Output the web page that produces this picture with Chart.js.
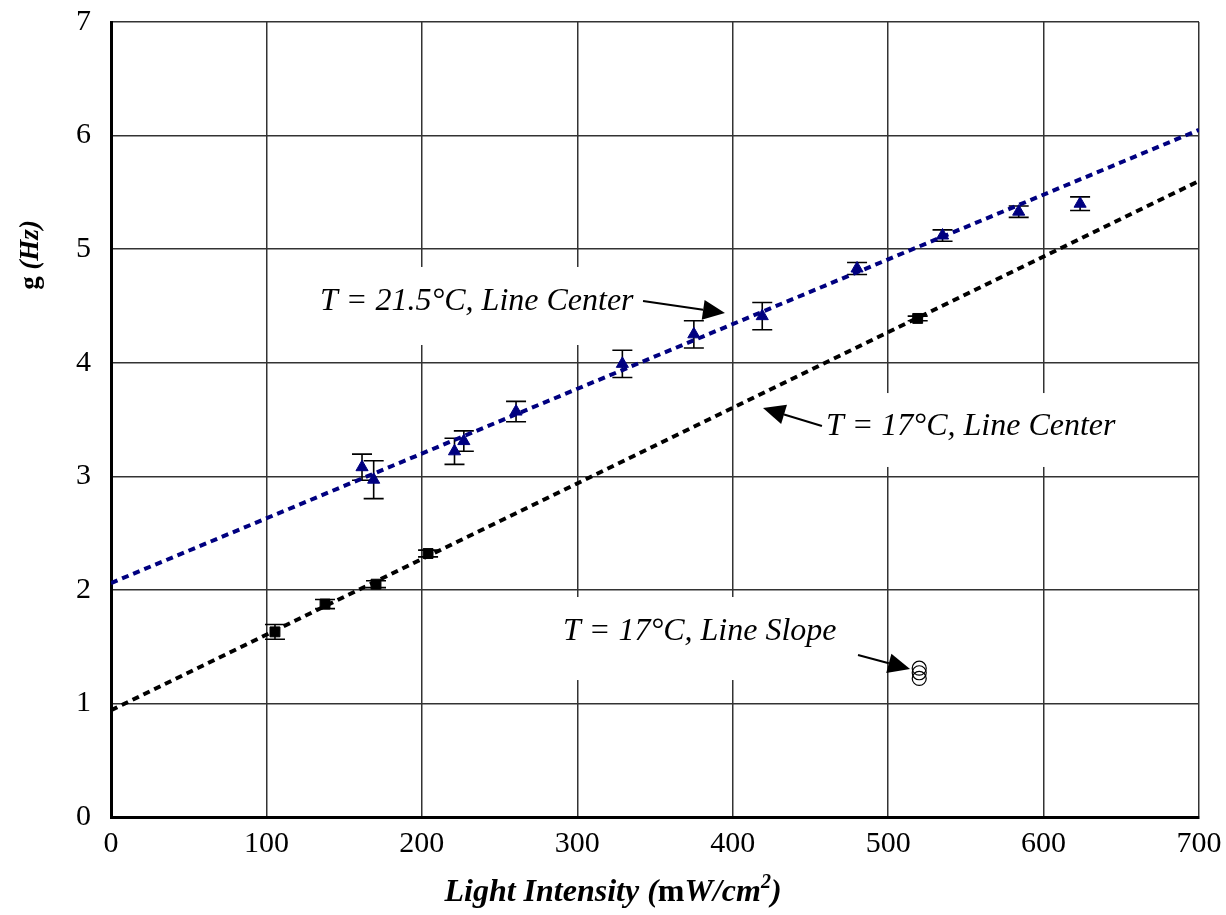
<!DOCTYPE html>
<html><head><meta charset="utf-8">
<script src="https://cdn.jsdelivr.net/npm/chart.js@4/dist/chart.umd.min.js"></script>
<style>html,body{margin:0;padding:0;background:#fff}#wrap{width:1226px;height:915px}</style>
</head><body><div id="wrap"><canvas id="c" width="1226" height="915"></canvas></div>
<script>
// ---- data ----
const xTickValues = [0, 100, 200, 300, 400, 500, 600, 700];
const yTickValues = [0, 1, 2, 3, 4, 5, 6, 7];

const warmX   = [161.5, 169, 221, 227, 260.6, 329, 375, 419, 480, 535, 584, 623.5];
const warmY   = [3.08, 2.97, 3.22, 3.31, 3.57, 3.99, 4.25, 4.41, 4.83, 5.12, 5.33, 5.40];
const warmErr = [0.115, 0.167, 0.115, 0.09, 0.09, 0.12, 0.12, 0.12, 0.053, 0.05, 0.05, 0.06];

const coldX   = [105.5, 137.7, 170.5, 204, 519];
const coldY   = [1.63, 1.875, 2.05, 2.32, 4.39];
const coldErr = [0.065, 0.04, 0.03, 0.03, 0.02];

const slopeX = [520, 520, 520];
const slopeY = [1.31, 1.27, 1.22];

const fitWarmX = [0, 700];
const fitWarmY = [2.06, 6.05];
const fitColdX = [0, 700];
const fitColdY = [0.94, 5.60];

const labelWarm  = 'T = 21.5\u00B0C, Line Center';
const labelCold  = 'T = 17\u00B0C, Line Center';
const labelSlope = 'T = 17\u00B0C, Line Slope';

// annotation anchors in data units
const annotations = [
  {text: labelWarm,  tx: 134.5, ty: 4.464, box: [128, 4.843, 345, 4.156], arrow: [342.3, 4.543, 395.0, 4.438]},
  {text: labelCold,  tx: 460.0, ty: 3.364, box: [452.9, 3.733, 660, 3.082], arrow: [457.4, 3.443, 419.5, 3.601]},
  {text: labelSlope, tx: 290.8, ty: 1.558, box: [283.7, 1.937, 478, 1.206], arrow: [480.6, 1.426, 514.1, 1.303]}
];

const SERIF = '"Liberation Serif", "Times New Roman", serif';
const zip = (xs, ys) => xs.map((x, i) => ({x, y: ys[i]}));

const errorBars = {
  id: 'errorBars',
  beforeDatasetsDraw(chart) {
    const {ctx, scales: {x, y}} = chart;
    ctx.save();
    ctx.fillStyle = '#fff';
    annotations.forEach(a => {
      const x0 = x.getPixelForValue(a.box[0]), y0 = y.getPixelForValue(a.box[1]);
      const x1 = x.getPixelForValue(a.box[2]), y1 = y.getPixelForValue(a.box[3]);
      ctx.fillRect(x0, y0, x1 - x0, y1 - y0);
    });
    ctx.strokeStyle = '#000';
    ctx.lineWidth = 1.6;
    const draw = (xs, ys, es) => {
      xs.forEach((xv, i) => {
        const px = x.getPixelForValue(xv);
        const top = y.getPixelForValue(ys[i] + es[i]);
        const bot = y.getPixelForValue(ys[i] - es[i]);
        ctx.beginPath();
        ctx.moveTo(px, top); ctx.lineTo(px, bot);
        ctx.moveTo(px - 10, top); ctx.lineTo(px + 10, top);
        ctx.moveTo(px - 10, bot); ctx.lineTo(px + 10, bot);
        ctx.stroke();
      });
    };
    draw(warmX, warmY, warmErr);
    draw(coldX, coldY, coldErr);
    ctx.restore();
  },
  afterDatasetsDraw(chart) {
    const {ctx, scales: {x, y}} = chart;
    ctx.save();
    ctx.fillStyle = '#000';
    ctx.strokeStyle = '#000';
    ctx.font = 'italic 32px ' + SERIF;
    ctx.textBaseline = 'alphabetic';
    ctx.textAlign = 'left';
    annotations.forEach(a => {
      ctx.fillText(a.text, x.getPixelForValue(a.tx), y.getPixelForValue(a.ty));
      const ax0 = x.getPixelForValue(a.arrow[0]), ay0 = y.getPixelForValue(a.arrow[1]);
      const ax1 = x.getPixelForValue(a.arrow[2]), ay1 = y.getPixelForValue(a.arrow[3]);
      const ang = Math.atan2(ay1 - ay0, ax1 - ax0);
      const hl = 22, hw = 10;
      const bx = ax1 - hl * Math.cos(ang), by = ay1 - hl * Math.sin(ang);
      ctx.lineWidth = 2;
      ctx.beginPath(); ctx.moveTo(ax0, ay0); ctx.lineTo(bx, by); ctx.stroke();
      ctx.beginPath();
      ctx.moveTo(ax1, ay1);
      ctx.lineTo(bx + hw * Math.sin(ang), by - hw * Math.cos(ang));
      ctx.lineTo(bx - hw * Math.sin(ang), by + hw * Math.cos(ang));
      ctx.closePath(); ctx.fill();
    });
    ctx.restore();
  },
  afterDraw(chart) {
    const {ctx} = chart;
    ctx.save();
    ctx.fillStyle = '#000';
    ctx.textBaseline = 'alphabetic';
    const parts = [
      {t: 'Light Intensity (', f: 'italic bold 32px ' + SERIF},
      {t: 'm', f: 'bold 32px ' + SERIF},
      {t: 'W/cm', f: 'italic bold 32px ' + SERIF},
      {t: '2', f: 'italic bold 20px ' + SERIF, sup: true},
      {t: ')', f: 'italic bold 32px ' + SERIF}
    ];
    let total = 0;
    parts.forEach(p => { ctx.font = p.f; p.w = ctx.measureText(p.t).width; total += p.w; });
    let cx = 613 - total / 2;
    const base = 901;
    parts.forEach(p => {
      ctx.font = p.f;
      ctx.fillText(p.t, cx, p.sup ? base - 13 : base);
      cx += p.w;
    });
    ctx.translate(38, 255);
    ctx.rotate(-Math.PI / 2);
    const yp = [
      {t: 'g', f: 'bold 27px ' + SERIF},
      {t: ' (Hz)', f: 'italic bold 27px ' + SERIF}
    ];
    let tw = 0;
    yp.forEach(p => { ctx.font = p.f; p.w = ctx.measureText(p.t).width; tw += p.w; });
    let sx = -tw / 2;
    yp.forEach(p => { ctx.font = p.f; ctx.fillText(p.t, sx, 0); sx += p.w; });
    ctx.restore();
  }
};

new Chart(document.getElementById('c'), {
  type: 'scatter',
  data: {
    datasets: [
      {type: 'line', data: zip(fitWarmX, fitWarmY), borderColor: '#000080', borderWidth: 4,
       borderDash: [7, 5], pointRadius: 0, fill: false, showLine: true},
      {type: 'line', data: zip(fitColdX, fitColdY), borderColor: '#000000', borderWidth: 4,
       borderDash: [7, 5], pointRadius: 0, fill: false, showLine: true},
      {data: zip(warmX, warmY), pointStyle: 'triangle', pointRadius: 7,
       backgroundColor: '#000080', borderColor: '#000080', borderWidth: 1},
      {data: zip(coldX, coldY), pointStyle: 'rect', pointRadius: 7,
       backgroundColor: '#000', borderColor: '#000', borderWidth: 1},
      {data: zip(slopeX, slopeY), pointStyle: 'circle', pointRadius: 7,
       backgroundColor: 'rgba(255,255,255,0)', borderColor: '#000', borderWidth: 1.2}
    ]
  },
  options: {
    responsive: false,
    animation: false,
    devicePixelRatio: 1,
    layout: {padding: {top: 22, right: 27, left: 0, bottom: 0}},
    plugins: {legend: {display: false}, tooltip: {enabled: false}},
    scales: {
      x: {
        type: 'linear', min: 0, max: 700,
        afterBuildTicks: s => { s.ticks = xTickValues.map(v => ({value: v})); },
        afterFit: s => { s.height = 98; },
        grid: {color: '#333', lineWidth: 1.5, drawTicks: true, tickLength: 9, tickColor: 'rgba(0,0,0,0)'},
        border: {color: '#000', width: 3},
        ticks: {color: '#000', padding: 0, font: {family: SERIF, size: 30}}
      },
      y: {
        type: 'linear', min: 0, max: 7,
        afterBuildTicks: s => { s.ticks = yTickValues.map(v => ({value: v})); },
        afterFit: s => { s.width = 111; },
        grid: {color: '#333', lineWidth: 1.5, drawTicks: true, tickLength: 20, tickColor: 'rgba(0,0,0,0)'},
        border: {color: '#000', width: 3},
        ticks: {color: '#000', padding: 0, font: {family: SERIF, size: 30}}
      }
    }
  },
  plugins: [errorBars]
});
</script>
</body></html>
